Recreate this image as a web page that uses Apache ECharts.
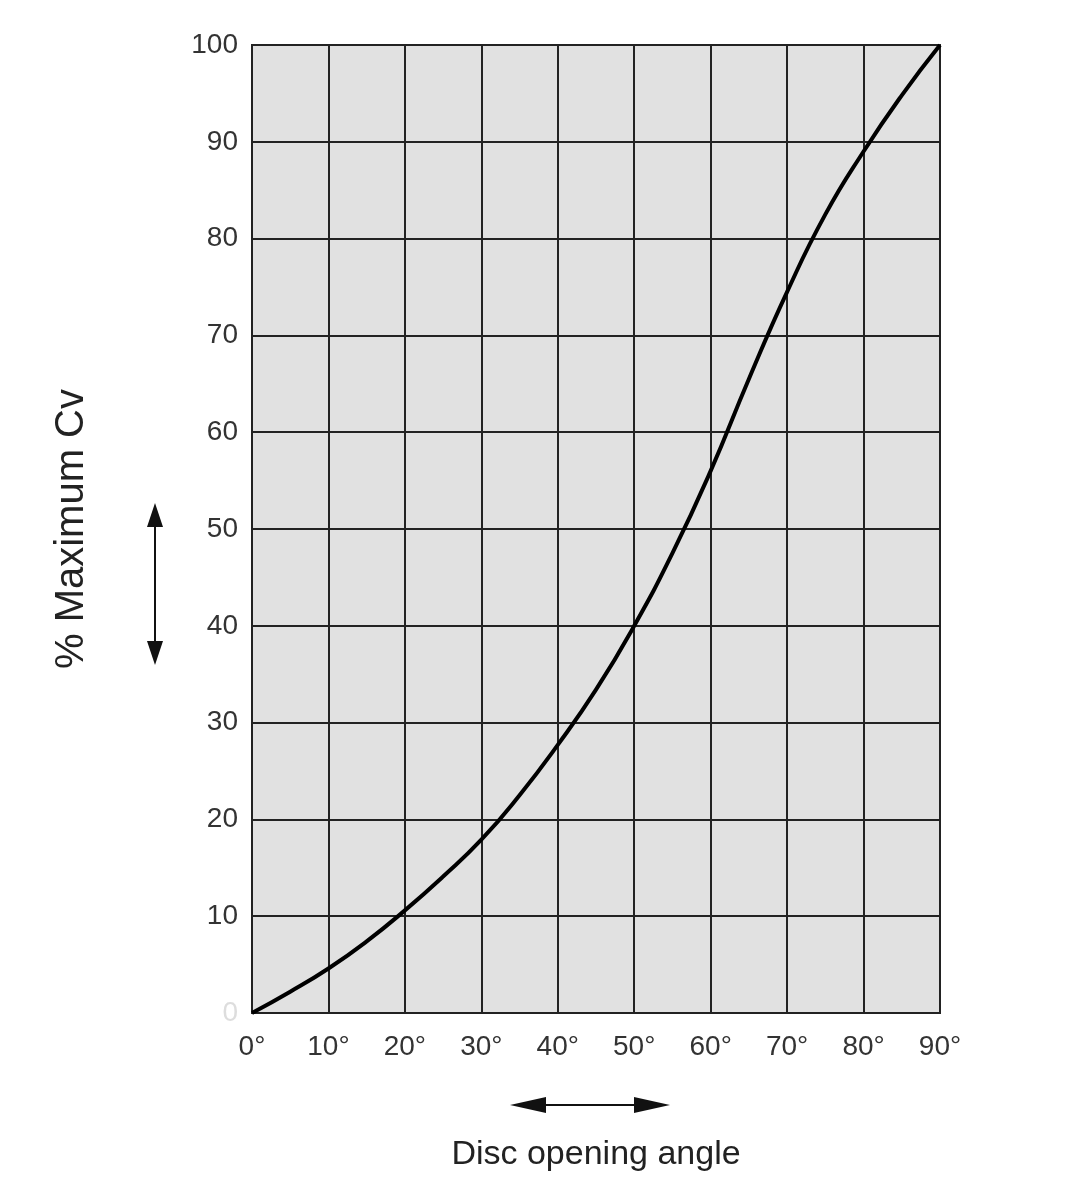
<!DOCTYPE html>
<html>
<head>
<meta charset="utf-8">
<script src="https://cdn.jsdelivr.net/npm/echarts@6/dist/echarts.min.js"></script>
<style>html,body{margin:0;padding:0;background:#fff}#chart{width:1080px;height:1200px}</style>
</head>
<body>
<div id="chart"></div>
<script>
// disc opening angle vs % max Cv
var angles = [0, 5, 10, 15, 20, 25, 30, 35, 40, 45, 50, 55, 60, 65, 70, 75, 80, 85, 90];
var cvPercent = [0, 2.2, 4.6, 7.4, 10.6, 14.1, 17.9, 22.5, 27.7, 33.4, 40, 47.5, 56, 65.5, 74.5, 82.5, 89, 94.8, 100];
var xTicks = [0, 10, 20, 30, 40, 50, 60, 70, 80, 90];

var myChart = echarts.init(document.getElementById('chart'));

function arrowV(x, y1, y2) {
    return [
        {type: 'line', shape: {x1: x, y1: y1 + 20, x2: x, y2: y2 - 20}, style: {stroke: '#111', lineWidth: 2}},
        {type: 'polygon', shape: {points: [[x, y1], [x - 8, y1 + 24], [x + 8, y1 + 24]]}, style: {fill: '#111'}},
        {type: 'polygon', shape: {points: [[x, y2], [x - 8, y2 - 24], [x + 8, y2 - 24]]}, style: {fill: '#111'}}
    ];
}
function arrowH(y, x1, x2) {
    return [
        {type: 'line', shape: {x1: x1 + 20, y1: y, x2: x2 - 20, y2: y}, style: {stroke: '#111', lineWidth: 2}},
        {type: 'polygon', shape: {points: [[x1, y], [x1 + 36, y - 8], [x1 + 36, y + 8]]}, style: {fill: '#111'}},
        {type: 'polygon', shape: {points: [[x2, y], [x2 - 36, y - 8], [x2 - 36, y + 8]]}, style: {fill: '#111'}}
    ];
}

var option = {
    animation: false,
    backgroundColor: '#fff',
    grid: {left: 252, right: 140, top: 45, bottom: 187, show: true, backgroundColor: '#e1e1e1', borderColor: '#222', borderWidth: 2},
    xAxis: {
        type: 'value', min: 0, max: 90, interval: 10,
        name: 'Disc opening angle', nameLocation: 'middle', nameGap: 125,
        nameTextStyle: {fontSize: 34, color: '#222', fontFamily: 'Liberation Sans'},
        axisLine: {show: false}, axisTick: {show: false},
        axisLabel: {fontSize: 28, color: '#333', margin: 20, fontFamily: 'Liberation Sans',
            formatter: function (v) { return v + '°'; }},
        splitLine: {lineStyle: {color: '#222', width: 2}}
    },
    yAxis: {
        type: 'value', min: 0, max: 100, interval: 10,
        name: '% Maximum Cv', nameLocation: 'middle', nameGap: 160,
        nameTextStyle: {fontSize: 40, color: '#222', fontFamily: 'Liberation Sans'},
        axisLine: {show: false}, axisTick: {show: false},
        axisLabel: {fontSize: 28, color: '#333', margin: 14, fontFamily: 'Liberation Sans',
            formatter: function (v) { return v === 0 ? '{f|0}' : v; },
            rich: {f: {color: '#ddd', fontSize: 28}}},
        splitLine: {lineStyle: {color: '#222', width: 2}}
    },
    graphic: arrowV(155, 503, 665).concat(arrowH(1105, 510, 670)),
    series: [{
        type: 'line', smooth: true, symbol: 'none',
        lineStyle: {color: '#000', width: 4},
        data: angles.map(function (a, i) { return [a, cvPercent[i]]; })
    }]
};
myChart.setOption(option);
</script>
</body>
</html>
